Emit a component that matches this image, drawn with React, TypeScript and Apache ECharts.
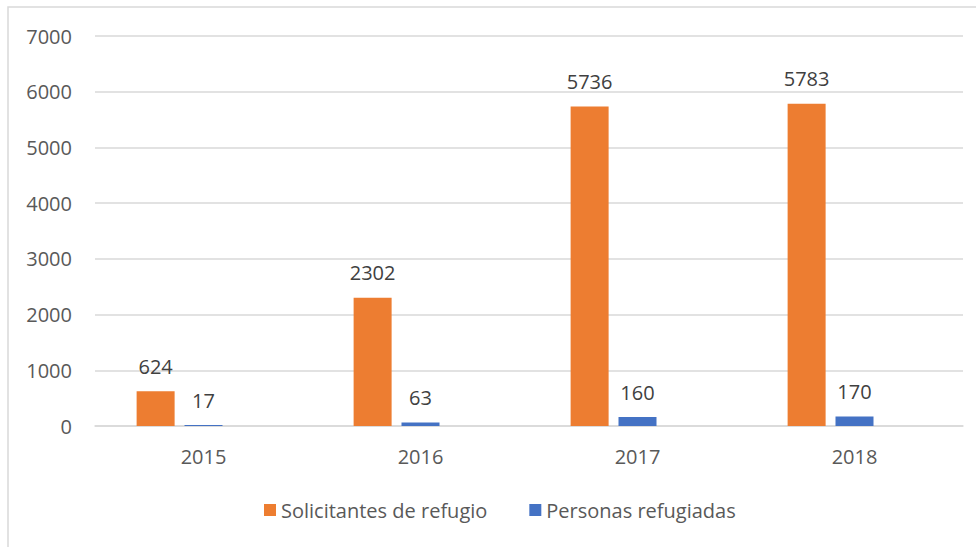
import React, { useEffect, useRef } from "react";
import * as echarts from "echarts";

const categories = ["2015", "2016", "2017", "2018"];
const solicitantes = [624, 2302, 5736, 5783];
const refugiadas = [17, 63, 160, 170];
const emptySeries = [null, null, null, null];
const seriesNames = ["Solicitantes de refugio", "Personas refugiadas"];

export default function App() {
  const ref = useRef<HTMLDivElement>(null);
  useEffect(() => {
    if (!ref.current) return;
    const chart = echarts.init(ref.current, null, { renderer: "svg" });
    const font = "'Open Sans', 'Noto Sans', sans-serif";
    const label = {
      show: true,
      position: "top",
      distance: 15,
      color: "#404040",
      fontSize: 20,
      fontFamily: font,
    };
    chart.setOption({
      animation: false,
      backgroundColor: "#ffffff",
      graphic: [
        {
          type: "rect",
          shape: { x: 8, y: 7, width: 1000, height: 600 },
          style: { fill: "none", stroke: "#D9D9D9", lineWidth: 1.5 },
          silent: true,
        },
      ],
      grid: { left: 95, right: 13, top: 36, bottom: 121, containLabel: false },
      legend: {
        data: seriesNames,
        bottom: 22,
        left: 259,
        icon: "rect",
        itemWidth: 12,
        itemHeight: 12,
        itemGap: 42,
        textStyle: { color: "#595959", fontSize: 20, fontFamily: font },
      },
      xAxis: {
        type: "category",
        data: categories,
        axisLine: { show: true, lineStyle: { color: "#D9D9D9", width: 1.5 } },
        axisTick: { show: false },
        axisLabel: { color: "#595959", fontSize: 20, fontFamily: font, margin: 20 },
      },
      yAxis: {
        type: "value",
        min: 0,
        max: 7000,
        interval: 1000,
        axisLine: { show: false },
        axisTick: { show: false },
        splitLine: { lineStyle: { color: "#D9D9D9", width: 1.5 } },
        axisLabel: {
          color: "#595959",
          fontSize: 20,
          fontFamily: font,
          margin: 23,
          formatter: (v: number) => String(v),
        },
      },
      series: [
        {
          name: seriesNames[0],
          type: "bar",
          data: solicitantes,
          barWidth: 38,
          barGap: "26%",
          itemStyle: { color: "#ED7D31" },
          label,
        },
        {
          name: seriesNames[1],
          type: "bar",
          data: refugiadas,
          barWidth: 38,
          barGap: "26%",
          itemStyle: { color: "#4472C4" },
          label,
        },
        {
          name: "extra",
          type: "bar",
          data: emptySeries,
          barWidth: 38,
          barGap: "26%",
          itemStyle: { color: "#A5A5A5" },
        },
      ],
    });
    return () => chart.dispose();
  }, []);
  return (
    <div
      ref={ref}
      style={{ position: "fixed", left: 0, top: 0, width: 976, height: 547 }}
    />
  );
}
